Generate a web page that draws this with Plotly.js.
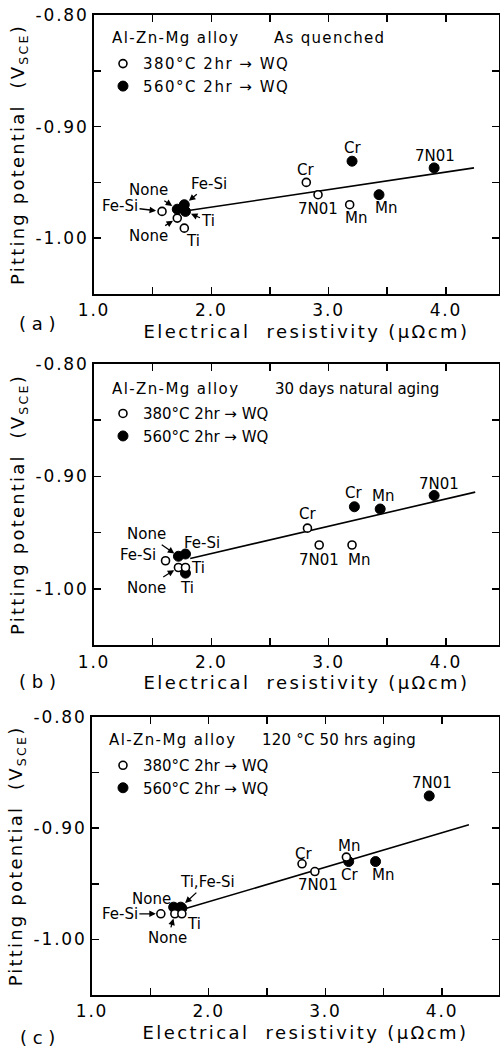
<!DOCTYPE html>
<html>
<head>
<meta charset="utf-8">
<script src="https://cdn.plot.ly/plotly-3.0.1.min.js"></script>
<style>
html,body{margin:0;padding:0;background:#fff;}
#plot{width:500px;height:1050px;}
.xtitle, .x2title, .x3title { letter-spacing: 2.4px; }
.ytitle, .y2title, .y3title { letter-spacing: 2.2px; }
.xtick text, .x2tick text, .x3tick text, .ytick text, .y2tick text, .y3tick text { letter-spacing: 1.8px; }
.legendtext { letter-spacing: 1.5px; }
</style>
</head>
<body>
<div id="plot"></div>
<script>
// ---- data ----
const categories = ["None", "Fe-Si", "Ti", "Cr", "Mn", "7N01"];

// (a) As quenched
const a_open_x = [1.71, 1.58, 1.77, 2.81, 3.18, 2.91];
const a_open_y = [-0.982, -0.976, -0.991, -0.950, -0.970, -0.961];
const a_fill_x = [1.71, 1.77, 1.78, 3.20, 3.43, 3.90];
const a_fill_y = [-0.974, -0.970, -0.976, -0.931, -0.961, -0.937];
const a_fit_x = [1.82, 4.24];
const a_fit_y = [-0.975, -0.937];

// (b) 30 days natural aging
const b_open_x = [1.72, 1.61, 1.78, 2.82, 3.20, 2.92];
const b_open_y = [-0.981, -0.975, -0.981, -0.946, -0.961, -0.961];
const b_fill_x = [1.72, 1.78, 1.78, 3.22, 3.44, 3.90];
const b_fill_y = [-0.971, -0.969, -0.986, -0.927, -0.929, -0.917];
const b_fit_x = [1.82, 4.25];
const b_fit_y = [-0.973, -0.914];

// (c) 120 °C 50 hrs aging
const c_open_x = [1.71, 1.59, 1.77, 2.80, 3.18, 2.91];
const c_open_y = [-0.977, -0.977, -0.977, -0.932, -0.926, -0.939];
const c_fill_x = [1.70, 1.76, 1.77, 3.20, 3.43, 3.89];
const c_fill_y = [-0.971, -0.971, -0.972, -0.930, -0.930, -0.871];
const c_fit_x = [1.81, 4.23];
const c_fit_y = [-0.972, -0.897];

const seriesNames = ["380°C 2hr → WQ", "560°C 2hr → WQ"];
const panelTitles = ["As quenched", "30 days natural aging", "120 °C 50 hrs aging"];
const panelLetters = ["( a )", "( b )", "( c )"];
const alloyTitle = "Al-Zn-Mg alloy";
const xTickVals = [1.0, 2.0, 3.0, 4.0];
const xTickText = ["1.0", "2.0", "3.0", "4.0"];
const yTickVals = [-0.80, -0.90, -1.00];
const yTickText = ["-0.80", "-0.90", "-1.00"];

// ---- build ----
const FONT = "DejaVu Sans";
const panels = [
  {k: "a", xa: "x", ya: "y", lg: "legend", ox: a_open_x, oy: a_open_y, fx: a_fill_x, fy: a_fill_y, lx: a_fit_x, ly: a_fit_y},
  {k: "b", xa: "x2", ya: "y2", lg: "legend2", ox: b_open_x, oy: b_open_y, fx: b_fill_x, fy: b_fill_y, lx: b_fit_x, ly: b_fit_y},
  {k: "c", xa: "x3", ya: "y3", lg: "legend3", ox: c_open_x, oy: c_open_y, fx: c_fill_x, fy: c_fill_y, lx: c_fit_x, ly: c_fit_y}
];

const traces = [];
panels.forEach(p => {
  traces.push({x: p.lx, y: p.ly, xaxis: p.xa, yaxis: p.ya, mode: "lines", type: "scatter",
    line: {color: "#000", width: 1.6}, showlegend: false, hoverinfo: "skip"});
  traces.push({x: p.fx, y: p.fy, xaxis: p.xa, yaxis: p.ya, mode: "markers", type: "scatter",
    name: seriesNames[1], legend: p.lg, legendrank: 2, text: categories,
    marker: {symbol: "circle", size: 10, color: "#000", line: {color: "#000", width: 1}}});
  traces.push({x: p.ox, y: p.oy, xaxis: p.xa, yaxis: p.ya, mode: "markers", type: "scatter",
    name: seriesNames[0], legend: p.lg, legendrank: 1, text: categories,
    marker: {symbol: "circle", size: 8, color: "#fff", line: {color: "#000", width: 1.6}}});
});

const annotations = [];
function lab(pi, kind, cat, text, o) {
  const p = panels[pi];
  const i = categories.indexOf(cat);
  const x = kind === "open" ? p.ox[i] : p.fx[i];
  const y = kind === "open" ? p.oy[i] : p.fy[i];
  const a = {x: x, y: y, xref: p.xa, yref: p.ya, text: text,
    font: {family: FONT, size: 15, color: "#000"}, showarrow: false};
  if (o.ax !== undefined) {
    Object.assign(a, {showarrow: true, ax: o.ax, ay: o.ay, arrowhead: 2, arrowsize: 1,
      arrowwidth: 1.3, arrowcolor: "#000", standoff: o.so || 6});
  } else {
    a.xshift = o.dx || 0; a.yshift = o.dy || 0;
  }
  annotations.push(a);
}
// panel (a)
lab(0, "open", "Fe-Si", "Fe-Si", {ax: -42, ay: -5, so: 6});
lab(0, "fill", "None", "None", {ax: -29, ay: -19, so: 6});
lab(0, "fill", "Fe-Si", "Fe-Si", {ax: 25, ay: -21, so: 6});
lab(0, "fill", "Ti", "Ti", {ax: 23, ay: 10, so: 6});
lab(0, "open", "None", "None", {ax: -29, ay: 18, so: 5});
lab(0, "open", "Ti", "Ti", {dx: 9, dy: -13});
lab(0, "open", "Cr", "Cr", {dx: -1, dy: 12});
lab(0, "open", "7N01", "7N01", {dx: 0, dy: -14});
lab(0, "open", "Mn", "Mn", {dx: 6, dy: -13});
lab(0, "fill", "Cr", "Cr", {dx: 0, dy: 13});
lab(0, "fill", "Mn", "Mn", {dx: 7, dy: -13});
lab(0, "fill", "7N01", "7N01", {dx: 1, dy: 12});
// panel (b)
lab(1, "fill", "None", "None", {ax: -32, ay: -22, so: 5});
lab(1, "fill", "Fe-Si", "Fe-Si", {dx: 17, dy: 11});
lab(1, "open", "Fe-Si", "Fe-Si", {dx: -28, dy: 6});
lab(1, "open", "Ti", "Ti", {dx: 13, dy: 0});
lab(1, "open", "None", "None", {ax: -32, ay: 20, so: 5});
lab(1, "fill", "Ti", "Ti", {dx: 2, dy: -15});
lab(1, "open", "Cr", "Cr", {dx: 0, dy: 14});
lab(1, "open", "7N01", "7N01", {dx: 0, dy: -15});
lab(1, "open", "Mn", "Mn", {dx: 7, dy: -15});
lab(1, "fill", "Cr", "Cr", {dx: -1, dy: 14});
lab(1, "fill", "Mn", "Mn", {dx: 3, dy: 13});
lab(1, "fill", "7N01", "7N01", {dx: 5, dy: 12});
// panel (c)
lab(2, "open", "Fe-Si", "Fe-Si", {ax: -41, ay: 0, so: 5});
lab(2, "fill", "None", "None", {dx: -22, dy: 8});
lab(2, "fill", "Fe-Si", "Ti,Fe-Si", {ax: 27, ay: -25, so: 6});
lab(2, "open", "Ti", "Ti", {dx: 12, dy: -10});
lab(2, "open", "None", "None", {ax: -7, ay: 24, so: 5});
lab(2, "open", "Cr", "Cr", {dx: 1, dy: 10});
lab(2, "open", "7N01", "7N01", {dx: 3, dy: -13});
lab(2, "open", "Mn", "Mn", {dx: 3, dy: 11});
lab(2, "fill", "Cr", "Cr", {dx: 1, dy: -13});
lab(2, "fill", "Mn", "Mn", {dx: 7, dy: -13});
lab(2, "fill", "7N01", "7N01", {dx: 3, dy: 13});

// panel header texts and letters (paper coords)
const headerY = [0.9765, 0.618, 0.260];
const headerX = [0.044, 0.044, 0.037];
const condX = [0.442, 0.445, 0.413];
const letterY = [0.6857, 0.3194, -0.0429];
for (let i = 0; i < 3; i++) {
  annotations.push({xref: "paper", yref: "paper", x: headerX[i], y: headerY[i], xanchor: "left", yanchor: "middle",
    align: "left", text: alloyTitle, showarrow: false, font: {family: FONT, size: 15, color: "#000"}});
  annotations.push({xref: "paper", yref: "paper", x: condX[i], y: headerY[i], xanchor: "left", yanchor: "middle",
    align: "left", text: panelTitles[i], showarrow: false, font: {family: FONT, size: 15, color: "#000"}});
  annotations.push({xref: "paper", yref: "paper", x: -0.135, y: letterY[i], xanchor: "center", yanchor: "middle",
    text: panelLetters[i], showarrow: false, font: {family: FONT, size: 18, color: "#000"}});
}

function xax(anchor, domain, range) {
  return {anchor: anchor, domain: domain, range: range, showline: true, linewidth: 2, linecolor: "#000",
    mirror: "allticks", ticks: "inside", ticklen: 7, tickwidth: 1.5, tickcolor: "#000",
    tickmode: "array", tickvals: xTickVals, ticktext: xTickText, showgrid: false, zeroline: false,
    minor: {tick0: 1.0, dtick: 0.5, ticks: "inside", ticklen: 7, tickwidth: 1.5, tickcolor: "#000", showgrid: false},
    tickfont: {family: FONT, size: 17, color: "#000"},
    title: {text: "Electrical  resistivity (μΩcm)", font: {family: FONT, size: 18, color: "#000"}, standoff: 6}};
}
function yax(anchor, domain) {
  return {anchor: anchor, domain: domain, range: [-1.05, -0.80], showline: true, linewidth: 2, linecolor: "#000",
    mirror: "allticks", ticks: "inside", ticklen: 7, tickwidth: 1.5, tickcolor: "#000",
    tickmode: "array", tickvals: yTickVals, ticktext: yTickText, showgrid: false, zeroline: false,
    minor: {tick0: -0.80, dtick: 0.05, ticks: "inside", ticklen: 7, tickwidth: 1.5, tickcolor: "#000", showgrid: false},
    tickfont: {family: FONT, size: 17, color: "#000"},
    title: {text: "Pitting potential  (V<sub>SCE</sub>)", font: {family: FONT, size: 18, color: "#000"}, standoff: 6}};
}
function leg(y) {
  return {x: 0.027, y: y, xanchor: "left", yanchor: "top", bgcolor: "rgba(0,0,0,0)", borderwidth: 0,
    itemwidth: 30, tracegroupgap: 0, font: {family: FONT, size: 15, color: "#000"}};
}

const layout = {
  width: 500, height: 1050,
  margin: {l: 92, r: 1, t: 15, b: 55},
  paper_bgcolor: "#fff", plot_bgcolor: "#fff",
  font: {family: FONT, color: "#000"},
  xaxis: xax("y", [0.0049, 1], [1.0, 4.453]),
  xaxis2: xax("y2", [0.0049, 1], [1.0, 4.453]),
  xaxis3: xax("y3", [0, 1], [1.0, 4.488]),
  yaxis: yax("x", [0.7153, 1]),
  yaxis2: yax("x2", [0.357, 0.644]),
  yaxis3: yax("x3", [0, 0.2837]),
  legend: leg(0.967), legend2: leg(0.610), legend3: leg(0.251),
  annotations: annotations,
  showlegend: true
};

// letter spacing of the header texts (px)
const headerSpacing = {};
headerSpacing[alloyTitle] = 1.4;
headerSpacing[panelTitles[0]] = 1.3;
headerSpacing[panelTitles[1]] = 0;
headerSpacing[panelTitles[2]] = 0.2;

Plotly.newPlot("plot", traces, layout, {staticPlot: true, displayModeBar: false}).then(function () {
  document.querySelectorAll(".annotation-text").forEach(function (t) {
    const s = headerSpacing[t.textContent];
    if (s) t.style.letterSpacing = s + "px";
  });
  document.querySelectorAll(".xtitle, .x2title, .x3title").forEach(function (t) {
    const x = parseFloat(t.getAttribute("x"));
    t.setAttribute("x", x + 10);
  });
});
</script>
</body>
</html>
